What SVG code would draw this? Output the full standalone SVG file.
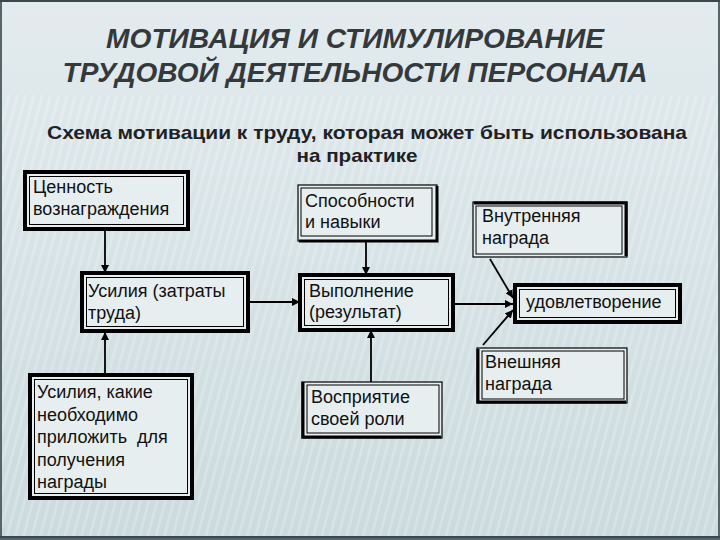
<svg xmlns="http://www.w3.org/2000/svg" width="720" height="540" viewBox="0 0 720 540">
<defs>
<linearGradient id="bg" x1="0" y1="0" x2="0" y2="1">
<stop offset="0" stop-color="#e3ebee"/>
<stop offset="0.5" stop-color="#d6e2e6"/>
<stop offset="1" stop-color="#cbdadd"/>
</linearGradient>
<pattern id="stripes" width="8" height="8" patternUnits="userSpaceOnUse" patternTransform="rotate(15)">
<rect x="0" y="0" width="3" height="8" fill="#ffffff" opacity="0.4"/>
</pattern>
<marker id="arr" viewBox="0 0 10 10" refX="10" refY="5" markerWidth="8" markerHeight="8" markerUnits="userSpaceOnUse" orient="auto">
<path d="M0,0 L10,5 L0,10 z" fill="#000"/>
</marker>
<style>
.title{font-family:"Liberation Sans",Arial,sans-serif;font-weight:bold;font-style:italic;font-size:28px;fill:#34393c}
.sub{font-family:"Liberation Sans",Arial,sans-serif;font-weight:bold;font-size:19px;fill:#1e2224}
.t{font-family:"Liberation Sans",Arial,sans-serif;font-size:18px;fill:#111}
.heavy{fill:#e7eef0;stroke:#000;stroke-width:4}
.light{fill:#e7eef0;stroke:#000;stroke-width:1.2}
.inner{fill:none;stroke:#000;stroke-width:1}
.thick{fill:none;stroke:#000;stroke-width:3}
.c{fill:none;stroke:#000;stroke-width:1.8}
</style>
</defs>
<rect x="0" y="0" width="720" height="540" fill="url(#bg)"/>
<rect x="0" y="95" width="720" height="445" fill="url(#stripes)" opacity="0.5"/>
<rect x="1" y="1" width="718" height="538" fill="none" stroke="#55656b" stroke-width="2"/>
<line x1="0" y1="1" x2="720" y2="1" stroke="#3a474c" stroke-width="2"/>
<line x1="0" y1="537" x2="720" y2="537" stroke="#3a474c" stroke-width="2"/>

<text class="title" x="355" y="48" text-anchor="middle" textLength="498" lengthAdjust="spacingAndGlyphs">МОТИВАЦИЯ И СТИМУЛИРОВАНИЕ</text>
<text class="title" x="355" y="82" text-anchor="middle" textLength="585" lengthAdjust="spacingAndGlyphs">ТРУДОВОЙ ДЕЯТЕЛЬНОСТИ ПЕРСОНАЛА</text>
<text class="sub" x="367" y="139" text-anchor="middle" textLength="640" lengthAdjust="spacingAndGlyphs">Схема мотивации к труду, которая может быть использована</text>
<text class="sub" x="357" y="162" text-anchor="middle" textLength="121" lengthAdjust="spacingAndGlyphs">на практике</text>

<g id="connectors">
<line class="c" x1="105" y1="230" x2="105" y2="273" marker-end="url(#arr)"/>
<line class="c" x1="105" y1="375" x2="105" y2="332" marker-end="url(#arr)"/>
<line class="c" x1="248" y1="302" x2="300" y2="302" marker-end="url(#arr)"/>
<line class="c" x1="366" y1="241" x2="366" y2="275" marker-end="url(#arr)"/>
<line class="c" x1="371" y1="382" x2="371" y2="330" marker-end="url(#arr)"/>
<line class="c" x1="455" y1="304" x2="513" y2="304" marker-end="url(#arr)"/>
<line class="c" x1="490" y1="259" x2="513" y2="298" marker-end="url(#arr)"/>
<line class="c" x1="483" y1="345" x2="513" y2="310" marker-end="url(#arr)"/>
</g>

<g id="cennost">
<rect class="heavy" x="25" y="172" width="163" height="57"/>
<rect class="inner" x="29.5" y="176.5" width="154" height="48"/>
<text class="t" x="33" y="193">Ценность</text>
<text class="t" x="33" y="215">вознаграждения</text>
</g>

<g id="usilia">
<rect class="heavy" x="82" y="273" width="166" height="58"/>
<rect class="inner" x="86.5" y="277.5" width="157" height="49"/>
<text class="t" x="88" y="297">Усилия (затраты</text>
<text class="t" x="88" y="319">труда)</text>
</g>

<g id="usilia-kakie">
<rect class="heavy" x="30" y="375" width="162" height="123"/>
<rect class="inner" x="34.5" y="379.5" width="153" height="114"/>
<text class="t" x="37" y="398">Усилия, какие</text>
<text class="t" x="37" y="420.5">необходимо</text>
<text class="t" x="37" y="443" xml:space="preserve">приложить  для</text>
<text class="t" x="37" y="465.5">получения</text>
<text class="t" x="37" y="488">награды</text>
</g>

<g id="sposobnosti">
<rect class="light" x="298" y="185" width="139" height="56"/>
<rect class="inner" x="301" y="188" width="131" height="48"/>
<path class="thick" d="M437,186 V241 H299"/>
<text class="t" x="305" y="207">Способности</text>
<text class="t" x="305" y="228">и навыки</text>
</g>

<g id="vypolnenie">
<rect class="heavy" x="300" y="275" width="153" height="55"/>
<rect class="inner" x="304.5" y="279.5" width="144" height="46"/>
<text class="t" x="309" y="297">Выполнение</text>
<text class="t" x="309" y="318">(результат)</text>
</g>

<g id="vospriyatie">
<rect class="light" x="302" y="382" width="140" height="56"/>
<rect class="inner" x="307" y="385" width="132" height="48"/>
<path class="thick" d="M303,382 V437 H441"/>
<text class="t" x="311" y="403">Восприятие</text>
<text class="t" x="311" y="425">своей роли</text>
</g>

<g id="vnutrennyaya">
<rect class="light" x="473" y="202" width="154" height="55"/>
<rect class="inner" x="476" y="206" width="146" height="48"/>
<path class="thick" d="M474,203 H626 V256"/>
<text class="t" x="482" y="222">Внутренняя</text>
<text class="t" x="482" y="244">награда</text>
</g>

<g id="udovletvorenie">
<rect class="heavy" x="515" y="285" width="165" height="37"/>
<rect class="inner" x="519.5" y="289.5" width="156" height="28"/>
<text class="t" x="526" y="308">удовлетворение</text>
</g>

<g id="vneshnyaya">
<rect class="light" x="477" y="348" width="150" height="55"/>
<rect class="inner" x="482" y="351" width="142" height="48"/>
<path class="thick" d="M478,349 V402 H626"/>
<text class="t" x="485" y="368">Внешняя</text>
<text class="t" x="485" y="390">награда</text>
</g>
</svg>
